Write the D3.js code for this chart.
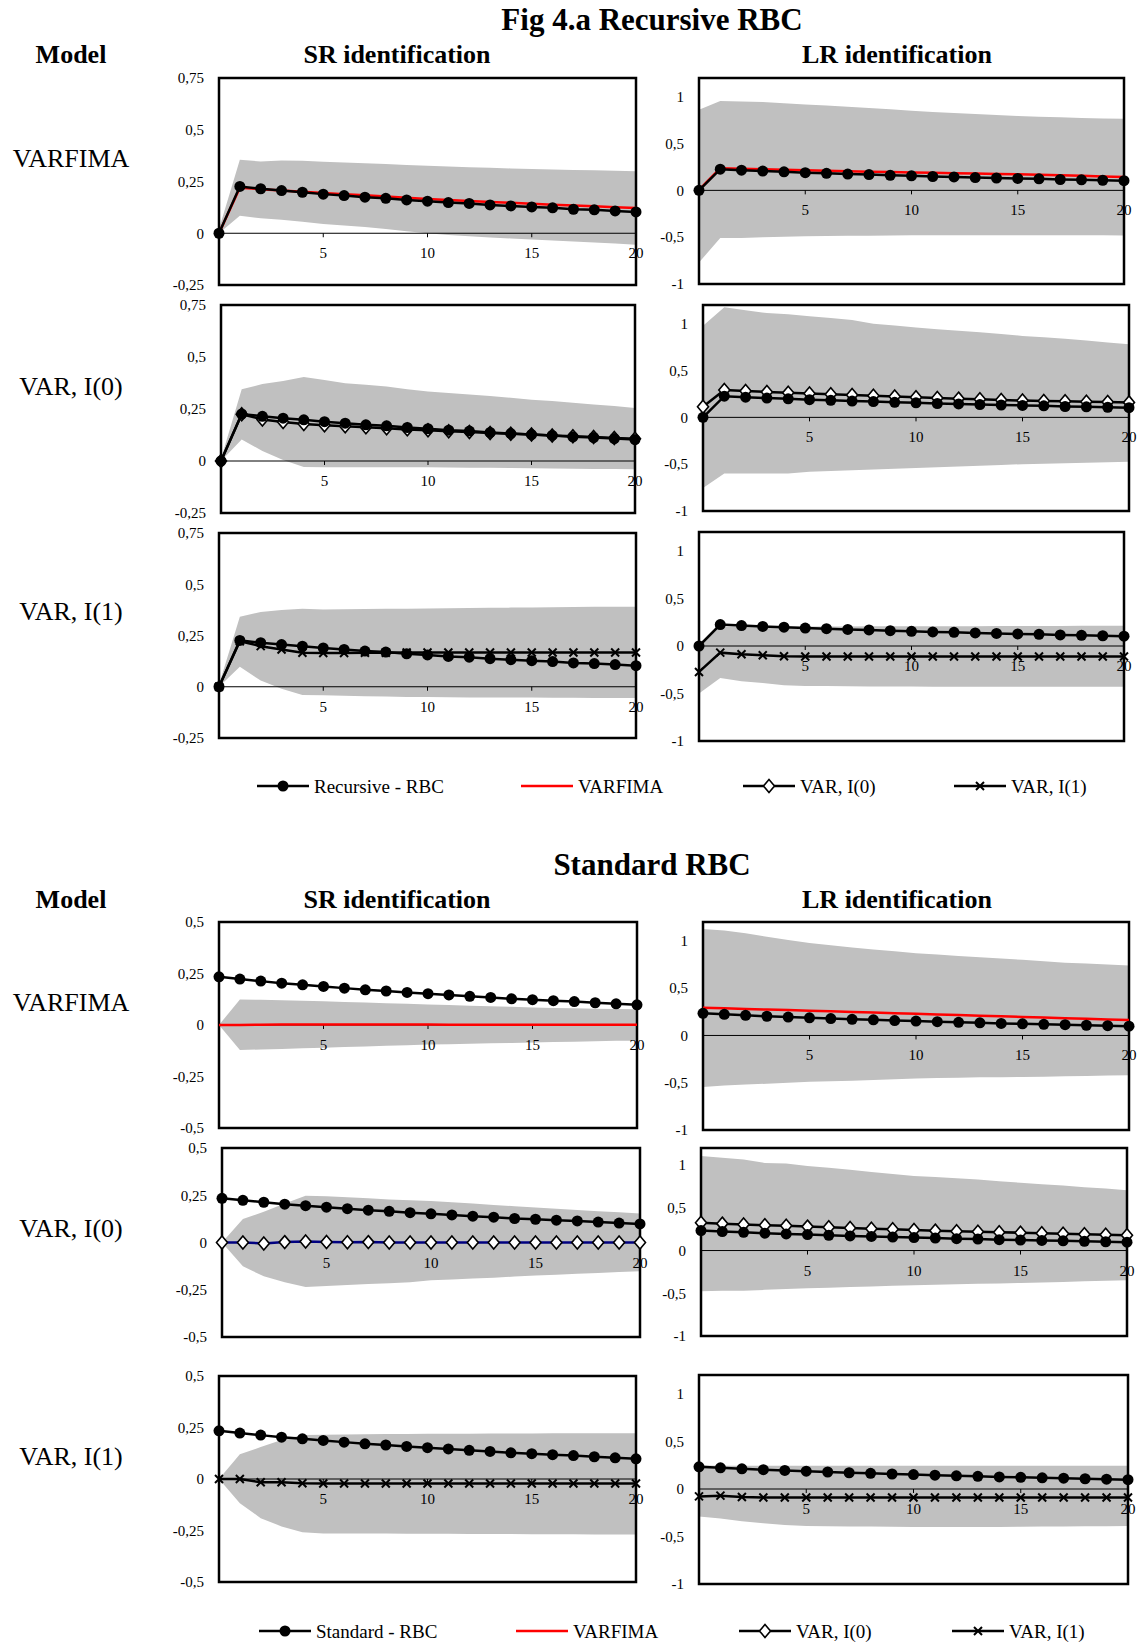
<!DOCTYPE html>
<html>
<head>
<meta charset="utf-8">
<script src="https://cdn.jsdelivr.net/npm/d3@7"></script>
<style>
  body { margin: 0; background: #fff; }
  text { font-family: "Liberation Serif", "Times New Roman", serif; fill: #000; }
</style>
</head>
<body>
<div id="chart"></div>
<script>
// horizon (x axis)
var horizon = [0,1,2,3,4,5,6,7,8,9,10,11,12,13,14,15,16,17,18,19,20];

// true model responses
var recursiveRBC = [0, 0.226, 0.215, 0.206, 0.198, 0.189, 0.182, 0.174, 0.169, 0.161, 0.155, 0.148, 0.144, 0.137, 0.132, 0.127, 0.123, 0.116, 0.113, 0.108, 0.103];
var standardRBC = [0.234, 0.223, 0.213, 0.203, 0.195, 0.187, 0.179, 0.171, 0.165, 0.158, 0.152, 0.146, 0.139, 0.134, 0.127, 0.123, 0.118, 0.114, 0.108, 0.103, 0.098];

// Fig 4.a Recursive RBC
var recSrVarfima   = [0, 0.22, 0.213, 0.207, 0.201, 0.195, 0.189, 0.183, 0.177, 0.172, 0.166, 0.161, 0.156, 0.151, 0.147, 0.142, 0.138, 0.134, 0.130, 0.126, 0.122];
var recSrVarfimaHi = [0.02, 0.355, 0.347, 0.352, 0.35, 0.345, 0.342, 0.338, 0.334, 0.33, 0.326, 0.322, 0.319, 0.316, 0.313, 0.31, 0.308, 0.306, 0.304, 0.302, 0.3];
var recSrVarfimaLo = [0, 0.085, 0.072, 0.065, 0.055, 0.045, 0.038, 0.03, 0.02, 0.01, 0.0, -0.008, -0.015, -0.02, -0.025, -0.03, -0.035, -0.04, -0.045, -0.05, -0.056];

var recLrVarfima   = [0.005, 0.235, 0.23, 0.225, 0.22, 0.215, 0.21, 0.205, 0.2, 0.196, 0.192, 0.187, 0.183, 0.179, 0.175, 0.171, 0.167, 0.161, 0.155, 0.149, 0.143];
var recLrVarfimaHi = [0.86, 0.955, 0.95, 0.945, 0.93, 0.918, 0.905, 0.893, 0.88, 0.865, 0.85, 0.838, 0.826, 0.815, 0.804, 0.795, 0.787, 0.78, 0.774, 0.768, 0.764];
var recLrVarfimaLo = [-0.77, -0.51, -0.51, -0.5, -0.495, -0.49, -0.488, -0.486, -0.484, -0.482, -0.48, -0.48, -0.48, -0.48, -0.48, -0.48, -0.48, -0.48, -0.48, -0.48, -0.482];

var recSrI0   = [0, 0.225, 0.2, 0.187, 0.178, 0.172, 0.167, 0.162, 0.157, 0.152, 0.148, 0.143, 0.139, 0.135, 0.131, 0.127, 0.123, 0.119, 0.115, 0.111, 0.107];
var recSrI0Hi = [0.01, 0.345, 0.37, 0.385, 0.404, 0.39, 0.374, 0.366, 0.358, 0.345, 0.334, 0.327, 0.32, 0.312, 0.304, 0.295, 0.288, 0.28, 0.272, 0.265, 0.255];
var recSrI0Lo = [0, 0.103, 0.048, 0.005, -0.029, -0.03, -0.03, -0.03, -0.03, -0.03, -0.03, -0.031, -0.032, -0.033, -0.034, -0.035, -0.036, -0.037, -0.038, -0.039, -0.04];

var recLrI0   = [0.114, 0.293, 0.282, 0.272, 0.263, 0.254, 0.246, 0.238, 0.23, 0.222, 0.214, 0.207, 0.2, 0.193, 0.186, 0.179, 0.175, 0.171, 0.167, 0.163, 0.16];
var recLrI0Hi = [0.979, 1.175, 1.145, 1.114, 1.1, 1.08, 1.06, 1.04, 1.0, 0.98, 0.96, 0.94, 0.925, 0.91, 0.89, 0.87, 0.855, 0.84, 0.82, 0.8, 0.782];
var recLrI0Lo = [-0.754, -0.6, -0.6, -0.6, -0.6, -0.58, -0.572, -0.564, -0.556, -0.548, -0.54, -0.532, -0.524, -0.516, -0.508, -0.5, -0.495, -0.49, -0.485, -0.48, -0.475];

var recSrI1   = [0, 0.222, 0.198, 0.182, 0.166, 0.165, 0.165, 0.166, 0.166, 0.167, 0.167, 0.167, 0.167, 0.167, 0.167, 0.167, 0.167, 0.167, 0.167, 0.167, 0.167];
var recSrI1Hi = [0.01, 0.341, 0.365, 0.375, 0.381, 0.377, 0.378, 0.379, 0.38, 0.381, 0.382, 0.383, 0.384, 0.385, 0.386, 0.387, 0.388, 0.389, 0.39, 0.39, 0.39];
var recSrI1Lo = [0, 0.097, 0.03, -0.01, -0.04, -0.042, -0.044, -0.046, -0.048, -0.05, -0.05, -0.051, -0.052, -0.052, -0.053, -0.053, -0.054, -0.054, -0.055, -0.055, -0.055];

var recLrI1   = [-0.273, -0.07, -0.087, -0.098, -0.108, -0.11, -0.11, -0.11, -0.11, -0.11, -0.11, -0.11, -0.11, -0.11, -0.11, -0.11, -0.11, -0.11, -0.11, -0.11, -0.11];
var recLrI1Hi = [0.0, 0.206, 0.205, 0.205, 0.205, 0.205, 0.206, 0.206, 0.207, 0.207, 0.208, 0.208, 0.209, 0.209, 0.21, 0.21, 0.211, 0.211, 0.212, 0.212, 0.213];
var recLrI1Lo = [-0.5, -0.336, -0.37, -0.39, -0.413, -0.42, -0.422, -0.424, -0.425, -0.426, -0.427, -0.428, -0.428, -0.429, -0.429, -0.43, -0.43, -0.43, -0.43, -0.43, -0.43];

// Standard RBC
var stdSrVarfima   = [0, 0, 0.001, 0.002, 0.002, 0.002, 0.002, 0.002, 0.002, 0.002, 0.002, 0.001, 0.001, 0.001, 0.001, 0.001, 0.001, 0.001, 0.001, 0.001, 0.001];
var stdSrVarfimaHi = [0, 0.124, 0.122, 0.12, 0.118, 0.115, 0.112, 0.109, 0.106, 0.103, 0.1, 0.097, 0.094, 0.091, 0.088, 0.085, 0.083, 0.081, 0.079, 0.078, 0.077];
var stdSrVarfimaLo = [0, -0.121, -0.119, -0.116, -0.113, -0.11, -0.107, -0.104, -0.101, -0.098, -0.095, -0.093, -0.091, -0.089, -0.087, -0.085, -0.083, -0.081, -0.079, -0.077, -0.076];

var stdLrVarfima   = [0.294, 0.287, 0.281, 0.274, 0.268, 0.261, 0.255, 0.248, 0.242, 0.235, 0.229, 0.222, 0.216, 0.209, 0.203, 0.196, 0.19, 0.183, 0.177, 0.17, 0.164];
var stdLrVarfimaHi = [1.126, 1.11, 1.08, 1.045, 1.01, 0.979, 0.955, 0.93, 0.91, 0.89, 0.87, 0.855, 0.84, 0.826, 0.813, 0.8, 0.785, 0.77, 0.76, 0.75, 0.741];
var stdLrVarfimaLo = [-0.545, -0.53, -0.52, -0.51, -0.5, -0.49, -0.484, -0.478, -0.471, -0.464, -0.455, -0.451, -0.447, -0.443, -0.441, -0.44, -0.436, -0.432, -0.428, -0.424, -0.42];

var stdSrI0   = [0, 0, -0.005, 0.002, 0.005, 0.003, 0.001, 0.002, 0, 0, 0, 0, 0, 0, 0, 0, 0, 0, 0, 0, 0];
var stdSrI0Hi = [0, 0.124, 0.163, 0.207, 0.248, 0.245, 0.24, 0.234, 0.228, 0.224, 0.22, 0.213, 0.206, 0.199, 0.192, 0.185, 0.179, 0.172, 0.166, 0.16, 0.154];
var stdSrI0Lo = [0, -0.126, -0.179, -0.21, -0.236, -0.23, -0.225, -0.22, -0.215, -0.21, -0.2, -0.196, -0.191, -0.186, -0.18, -0.175, -0.171, -0.166, -0.161, -0.156, -0.152];

var stdLrI0   = [0.324, 0.315, 0.306, 0.297, 0.289, 0.28, 0.272, 0.264, 0.256, 0.248, 0.24, 0.233, 0.227, 0.221, 0.215, 0.209, 0.203, 0.197, 0.191, 0.185, 0.18];
var stdLrI0Hi = [1.105, 1.085, 1.066, 1.025, 1.02, 0.99, 0.97, 0.945, 0.92, 0.895, 0.871, 0.86, 0.845, 0.83, 0.81, 0.793, 0.776, 0.76, 0.742, 0.725, 0.707];
var stdLrI0Lo = [-0.477, -0.47, -0.47, -0.46, -0.45, -0.44, -0.434, -0.428, -0.42, -0.413, -0.406, -0.4, -0.395, -0.39, -0.385, -0.38, -0.374, -0.368, -0.36, -0.354, -0.348];

var stdSrI1   = [0, 0, -0.016, -0.016, -0.021, -0.022, -0.022, -0.022, -0.022, -0.022, -0.022, -0.022, -0.022, -0.022, -0.022, -0.022, -0.022, -0.022, -0.022, -0.022, -0.022];
var stdSrI1Hi = [0, 0.12, 0.155, 0.189, 0.214, 0.215, 0.216, 0.217, 0.218, 0.219, 0.22, 0.22, 0.22, 0.221, 0.221, 0.221, 0.222, 0.222, 0.222, 0.222, 0.222];
var stdSrI1Lo = [0, -0.118, -0.19, -0.23, -0.259, -0.264, -0.265, -0.265, -0.265, -0.266, -0.266, -0.266, -0.267, -0.267, -0.267, -0.268, -0.268, -0.268, -0.269, -0.269, -0.269];

var stdLrI1   = [-0.078, -0.07, -0.085, -0.089, -0.089, -0.089, -0.089, -0.089, -0.089, -0.089, -0.089, -0.089, -0.089, -0.089, -0.089, -0.089, -0.089, -0.089, -0.089, -0.089, -0.089];
var stdLrI1Hi = [0.25, 0.244, 0.244, 0.244, 0.244, 0.244, 0.244, 0.244, 0.244, 0.244, 0.244, 0.244, 0.244, 0.244, 0.244, 0.244, 0.244, 0.244, 0.244, 0.244, 0.244];
var stdLrI1Lo = [-0.29, -0.31, -0.34, -0.36, -0.38, -0.39, -0.392, -0.394, -0.396, -0.398, -0.4, -0.4, -0.4, -0.4, -0.399, -0.398, -0.396, -0.394, -0.392, -0.391, -0.39];

// axis ticks
var srTicksRec = [-0.25, 0, 0.25, 0.5, 0.75];
var srTicksStd = [-0.5, -0.25, 0, 0.25, 0.5];
var lrTicks = [-1, -0.5, 0, 0.5, 1];
var xTicks = [5, 10, 15, 20];

var svg = d3.select("#chart").append("svg")
  .attr("width", 1139)
  .attr("height", 1644);

function fmt(v) { return String(v).replace(".", ","); }

function crossPath(s) { return `M${-s},${-s}L${s},${s}M${-s},${s}L${s},${-s}`; }
var diamondPath = "M0,-6.5L5.5,0L0,6.5L-5.5,0Z";

function drawMarker(g, kind, x, y) {
  if (kind === "circle") {
    g.append("circle").attr("cx", x).attr("cy", y).attr("r", 5.5).attr("fill", "#000");
  } else if (kind === "diamond") {
    g.append("path").attr("d", diamondPath).attr("transform", `translate(${x},${y})`)
      .attr("fill", "#fff").attr("stroke", "#000").attr("stroke-width", 1.6);
  } else if (kind === "cross") {
    g.append("path").attr("d", crossPath(4)).attr("transform", `translate(${x},${y})`)
      .attr("fill", "none").attr("stroke", "#000").attr("stroke-width", 2);
  }
}

function panel(p) {
  var x = d3.scaleLinear().domain([0, 20]).range([p.x0, p.x1]);
  var y = d3.scaleLinear().domain(p.domain).range([p.y1, p.y0]);
  var g = svg.append("g");

  var area = d3.area()
    .x((d, i) => x(horizon[i]))
    .y0((d, i) => y(p.lo[i]))
    .y1((d, i) => y(p.hi[i]));
  g.append("path").datum(p.hi).attr("d", area).attr("fill", "#c0c0c0");

  // zero line
  g.append("line").attr("x1", p.x0).attr("x2", p.x1)
    .attr("y1", y(0)).attr("y2", y(0)).attr("stroke", "#000").attr("stroke-width", 1);

  // x ticks + labels sitting on the zero line
  xTicks.forEach(function(t) {
    g.append("line").attr("x1", x(t)).attr("x2", x(t))
      .attr("y1", y(0)).attr("y2", y(0) + 4).attr("stroke", "#000").attr("stroke-width", 1);
    g.append("text").attr("x", x(t)).attr("y", y(0) + 25)
      .attr("text-anchor", "middle").style("font-size", "15px").text(t);
  });

  // frame
  g.append("rect").attr("x", p.x0).attr("y", p.y0)
    .attr("width", p.x1 - p.x0).attr("height", p.y1 - p.y0)
    .attr("fill", "none").attr("stroke", "#000").attr("stroke-width", 2.5);

  // y tick labels
  p.ticks.forEach(function(t) {
    g.append("text").attr("x", p.x0 - 15).attr("y", y(t))
      .attr("dy", "0.35em").attr("text-anchor", "end")
      .style("font-size", "15px").text(fmt(t));
  });

  var line = d3.line().x((d, i) => x(horizon[i])).y(d => y(d));

  // comparison series first, model response on top
  if (p.kind === "varfima") {
    g.append("path").datum(p.est).attr("d", line)
      .attr("fill", "none").attr("stroke", "#ff0000").attr("stroke-width", 2.5);
  } else {
    g.append("path").datum(p.est).attr("d", line)
      .attr("fill", "none").attr("stroke", p.lineColor || "#000").attr("stroke-width", 2.5);
    p.est.forEach(function(v, i) { drawMarker(g, p.kind, x(horizon[i]), y(v)); });
  }

  g.append("path").datum(p.rbc).attr("d", line)
    .attr("fill", "none").attr("stroke", "#000").attr("stroke-width", 2.5);
  p.rbc.forEach(function(v, i) { drawMarker(g, "circle", x(horizon[i]), y(v)); });
}

var srRec = [-0.25, 0.75], srStd = [-0.5, 0.5], lr = [-1, 1.2];

var panels = [
  {x0: 219, x1: 636, y0: 78, y1: 285, domain: srRec, ticks: srTicksRec, rbc: recursiveRBC, kind: "varfima", est: recSrVarfima, hi: recSrVarfimaHi, lo: recSrVarfimaLo},
  {x0: 699, x1: 1124, y0: 78, y1: 284, domain: lr, ticks: lrTicks, rbc: recursiveRBC, kind: "varfima", est: recLrVarfima, hi: recLrVarfimaHi, lo: recLrVarfimaLo},
  {x0: 221, x1: 635, y0: 305, y1: 513, domain: srRec, ticks: srTicksRec, rbc: recursiveRBC, kind: "diamond", est: recSrI0, hi: recSrI0Hi, lo: recSrI0Lo},
  {x0: 703, x1: 1129, y0: 305, y1: 511, domain: lr, ticks: lrTicks, rbc: recursiveRBC, kind: "diamond", est: recLrI0, hi: recLrI0Hi, lo: recLrI0Lo},
  {x0: 219, x1: 636, y0: 533, y1: 738, domain: srRec, ticks: srTicksRec, rbc: recursiveRBC, kind: "cross", est: recSrI1, hi: recSrI1Hi, lo: recSrI1Lo},
  {x0: 699, x1: 1124, y0: 532, y1: 741, domain: lr, ticks: lrTicks, rbc: recursiveRBC, kind: "cross", est: recLrI1, hi: recLrI1Hi, lo: recLrI1Lo},

  {x0: 219, x1: 637, y0: 922, y1: 1128, domain: srStd, ticks: srTicksStd, rbc: standardRBC, kind: "varfima", est: stdSrVarfima, hi: stdSrVarfimaHi, lo: stdSrVarfimaLo},
  {x0: 703, x1: 1129, y0: 922, y1: 1130, domain: lr, ticks: lrTicks, rbc: standardRBC, kind: "varfima", est: stdLrVarfima, hi: stdLrVarfimaHi, lo: stdLrVarfimaLo},
  {x0: 222, x1: 640, y0: 1148, y1: 1337, domain: srStd, ticks: srTicksStd, rbc: standardRBC, kind: "diamond", est: stdSrI0, hi: stdSrI0Hi, lo: stdSrI0Lo, lineColor: "#000080"},
  {x0: 701, x1: 1127, y0: 1148, y1: 1336, domain: lr, ticks: lrTicks, rbc: standardRBC, kind: "diamond", est: stdLrI0, hi: stdLrI0Hi, lo: stdLrI0Lo},
  {x0: 219, x1: 636, y0: 1376, y1: 1582, domain: srStd, ticks: srTicksStd, rbc: standardRBC, kind: "cross", est: stdSrI1, hi: stdSrI1Hi, lo: stdSrI1Lo},
  {x0: 699, x1: 1128, y0: 1375, y1: 1584, domain: lr, ticks: lrTicks, rbc: standardRBC, kind: "cross", est: stdLrI1, hi: stdLrI1Hi, lo: stdLrI1Lo}
];

panels.forEach(panel);

// headings
function bold(x, y, size, txt) {
  svg.append("text").attr("x", x).attr("y", y).attr("text-anchor", "middle")
    .style("font-size", size + "px").style("font-weight", "bold").text(txt);
}
function plain(x, y, size, txt) {
  svg.append("text").attr("x", x).attr("y", y).attr("text-anchor", "middle")
    .attr("dy", "0.35em").style("font-size", size + "px").text(txt);
}

bold(652, 30, 31, "Fig 4.a Recursive RBC");
bold(71, 63, 26, "Model");
bold(397, 63, 26, "SR identification");
bold(897, 63, 26, "LR identification");

bold(652, 875, 31, "Standard RBC");
bold(71, 908, 26, "Model");
bold(397, 908, 26, "SR identification");
bold(897, 908, 26, "LR identification");

var rowLabels = ["VARFIMA", "VAR, I(0)", "VAR, I(1)"];
var rowY1 = [158, 386, 611];
var rowY2 = [1002, 1228, 1456];
rowLabels.forEach(function(l, i) {
  plain(71, rowY1[i], 26, l);
  plain(71, rowY2[i], 26, l);
});

// legends
function legend(y, names, xs) {
  var kinds = ["circle", "varfima", "diamond", "cross"];
  names.forEach(function(n, i) {
    var g = svg.append("g");
    var x1 = xs[i], x2 = xs[i] + 52;
    g.append("line").attr("x1", x1).attr("x2", x2).attr("y1", y).attr("y2", y)
      .attr("stroke", kinds[i] === "varfima" ? "#ff0000" : "#000").attr("stroke-width", 2.5);
    if (kinds[i] !== "varfima") drawMarker(g, kinds[i], (x1 + x2) / 2, y);
    g.append("text").attr("x", x2 + 5).attr("y", y).attr("dy", "0.35em")
      .style("font-size", "19px").text(n);
  });
}
legend(786, ["Recursive - RBC", "VARFIMA", "VAR, I(0)", "VAR, I(1)"], [257, 521, 743, 954]);
legend(1631, ["Standard - RBC", "VARFIMA", "VAR, I(0)", "VAR, I(1)"], [259, 516, 739, 952]);
</script>
</body>
</html>
